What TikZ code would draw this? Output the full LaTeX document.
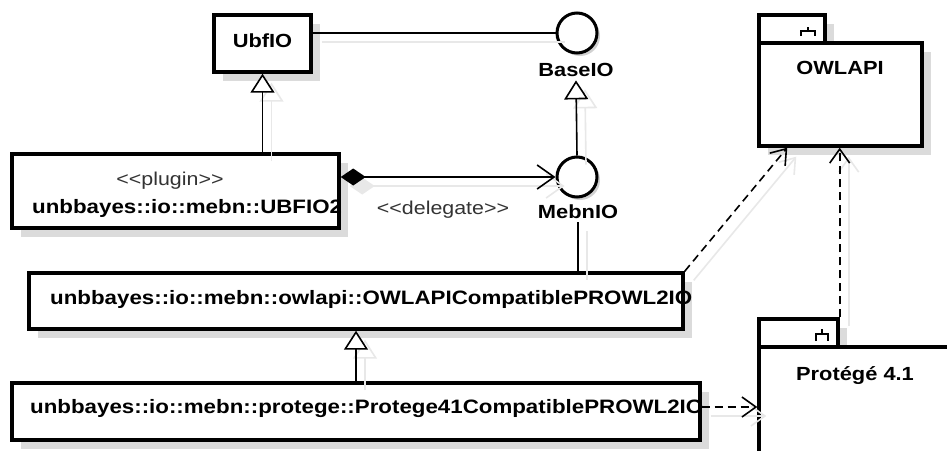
\documentclass[tikz,border=0pt]{standalone}
\usepackage{fontspec}
\setmainfont{Liberation Sans}[FakeStretch=1.15]
\usetikzlibrary{arrows.meta,shadows,calc}
\newcommand\dlt{<\kern0pt<}
\newcommand\dgt{>\kern0pt>}
\begin{document}
\begin{tikzpicture}[x=1pt,y=-1pt,
  boxshadow/.style={drop shadow={shadow xshift=9pt,shadow yshift=-9pt,fill=black!14,opacity=1}},
  cls/.style={draw,line width=3.4pt,fill=white,inner sep=0pt,boxshadow},
  iface/.style={circle,draw,line width=3pt,fill=white,minimum size=40pt,inner sep=0pt,
    drop shadow={shadow xshift=3pt,shadow yshift=-3pt,fill=black!18,opacity=1}},
  lbl/.style={inner sep=0pt,anchor=base,font=\fontsize{19}{22}\selectfont\bfseries},
  stereo/.style={inner sep=0pt,anchor=base,text=black!80,font=\fontsize{18.6}{22}\selectfont},
  cname/.style={inner sep=0pt,anchor=base west,font=\fontsize{19.4}{23}\selectfont\bfseries},
  conn/.style={line width=1.6pt,
    preaction={draw=black!9,line width=1.6pt,transform canvas={shift={(9,9)}}}},
  gen/.style={conn,-{Triangle[open,length=19pt,width=24pt,fill=white]}},
  dep/.style={conn,dash pattern=on 8pt off 5pt,-{Straight Barb[length=14pt,width=20pt]}},
  icon/.style={line width=1.3pt},
]
\useasboundingbox[fill=white] (0,0) rectangle (947,450);

% classes
\node[cls,minimum width=97pt,minimum height=57pt] (ubfio) at (262.5,43.5) {};
\node[lbl] (ubfiot) at (262.5,47) {UbfIO};

\node[cls,minimum width=327pt,minimum height=74pt] (ubfio2) at (175.5,191) {};
\node[stereo] (plugin) at (170,185) {\dlt plugin\dgt};
\node[cname] (ubfio2t) at (32,213) {unbbayes::io::mebn::UBFIO2};

\node[cls,minimum width=654pt,minimum height=56pt] (owlc) at (356,301) {};
\node[cname] (owlct) at (50,304) {unbbayes::io::mebn::owlapi::OWLAPICompatiblePROWL2IO};

\node[cls,minimum width=688pt,minimum height=57pt] (prot41) at (356,411.5) {};
\node[cname] (prot41t) at (30,413) {unbbayes::io::mebn::protege::Protege41CompatiblePROWL2IO};

% interfaces
\node[iface] (baseio) at (577,33) {};
\node[lbl] (baselbl) at (576,76) {BaseIO};
\node[iface] (mebnio) at (577,177) {};
\node[lbl] (mebnlbl) at (578,218) {MebnIO};

% packages
\node[cls,minimum width=66pt,minimum height=28pt] (owltab) at (792,29) {};
\node[cls,minimum width=163pt,minimum height=103pt] (owlapi) at (840.5,94.5) {};
\node[lbl] (owlapit) at (840,74) {OWLAPI};
\draw[icon] (808,27) -- (808,31) (801,36) -- (801,31) -- (815,31) -- (815,36);

\node[cls,minimum width=79pt,minimum height=28pt] (ptab) at (798.5,333) {};
\node[cls,minimum width=241pt,minimum height=173pt] (pbody) at (879.5,433.5) {};
\node[lbl] (pbodyt) at (855,380) {Protégé 4.1};
\draw[icon] (822,329) -- (822,334) (816,341) -- (816,334) -- (828,334) -- (828,341);

% connectors
\draw[conn] (ubfio.east |- baseio.west) -- (baseio.west);
\draw[gen] (ubfio2.north -| ubfio.south) -- (ubfio.south);
\draw[gen] (mebnio.north) -- ([yshift=-4pt]baselbl.south);
\draw[conn,{Diamond[length=25pt,width=17pt]}-{Straight Barb[length=17pt,width=24pt]}]
  (ubfio2.east |- mebnio.west) -- (mebnio.west);
\node[stereo] (deleg) at (443,214) {\dlt delegate\dgt};
\draw[conn] ([yshift=-4pt]mebnlbl.south) -- (mebnlbl.south |- owlc.north);
\draw[gen] (prot41.north) -- (owlc.south);
\draw[dep] (owlc.north east) -- ($(owlapi.south west)!0.18!(owlapi.south east)$);
\draw[dep] (ptab.north east) -- (ptab.north east |- owlapi.south);
\draw[dep] ([yshift=4.5pt]prot41.east) -- ([yshift=4.5pt]prot41.east -| pbody.west);
\end{tikzpicture}
\end{document}
